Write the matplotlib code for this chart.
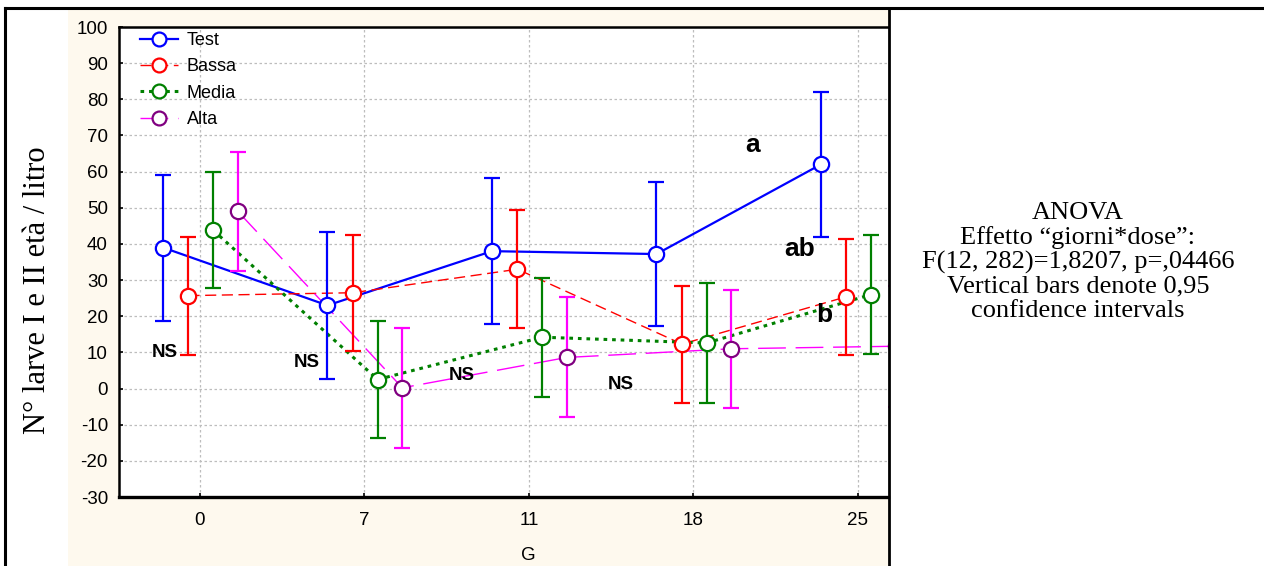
import matplotlib
matplotlib.use("Agg")
import matplotlib.pyplot as plt
from matplotlib.lines import Line2D
from matplotlib.patches import Rectangle
import numpy as np

plt.rcParams["axes.unicode_minus"] = False

# ---- data ----
days = ["0", "7", "11", "18", "25"]
series_names = ["Test", "Bassa", "Media", "Alta"]
test_mean = [39.0, 23.0, 38.0, 37.2, 62.0]
test_ci = [20.2, 20.3, 20.2, 20.0, 20.0]
bassa_mean = [25.7, 26.5, 33.0, 12.3, 25.4]
bassa_ci = [16.3, 16.0, 16.3, 16.2, 16.0]
media_mean = [43.8, 2.5, 14.2, 12.6, 26.0]
media_ci = [16.0, 16.2, 16.5, 16.5, 16.5]
alta_mean = [49.0, 0.2, 8.6, 11.0, 11.7]
alta_ci = [16.5, 16.6, 16.6, 16.3, 16.7]
y_ticks = list(range(-30, 101, 10))
ns_labels = ["NS", "NS", "NS", "NS"]
letters = ["a", "ab", "b"]
anova_text = ("ANOVA\nEffetto \u201cgiorni*dose\u201d:\nF(12, 282)=1,8207, p=,04466\n"
              "Vertical bars denote 0,95\nconfidence intervals")
ylabel = "N\u00b0 larve I e II et\u00e0 / litro"

W, H = 1264, 566
fig = plt.figure(figsize=(W / 100, H / 100), dpi=100)
fig.patch.set_facecolor("white")

def fx(px):
    return px / W

def fy(py):
    return 1 - py / H

# beige panel
bg = Rectangle((fx(68), 0), fx(888) - fx(68), fy(9), transform=fig.transFigure,
               facecolor="#FEF9EE", edgecolor="none", zorder=-5)
fig.patches.append(bg)
# table borders
fig.add_artist(Line2D([fx(5), 1], [fy(8), fy(8)], color="black", lw=2.2, transform=fig.transFigure, zorder=10))
fig.add_artist(Line2D([fx(5), fx(5)], [0, fy(8)], color="black", lw=2.2, transform=fig.transFigure, zorder=10))
fig.add_artist(Line2D([fx(889), fx(889)], [0, fy(8)], color="black", lw=2.0, transform=fig.transFigure, zorder=10))

ax = fig.add_axes([fx(119), fy(497), fx(888) - fx(119), fy(27) - fy(497)])
ax.set_zorder(2)
ax.set_facecolor("white")

x = np.arange(len(days))
offsets = [-0.225, -0.07, 0.08, 0.23]
means = [test_mean, bassa_mean, media_mean, alta_mean]
cis = [test_ci, bassa_ci, media_ci, alta_ci]
line_colors = ["#0000FF", "#FF0000", "#008000", "#FF00FF"]
edge_colors = ["#0000FF", "#FF0000", "#008000", "#800080"]
styles = [dict(ls="-", lw=1.6), dict(ls=(0, (8, 4)), lw=1.0), dict(ls=(0, (1.2, 1.6)), lw=2.2),
          dict(ls=(0, (20, 7)), lw=1.0)]

for i in range(4):
    xi = x + offsets[i]
    ax.plot(xi, means[i], color=line_colors[i], zorder=3, **styles[i])
    ax.errorbar(xi, means[i], yerr=cis[i], fmt="none", ecolor=line_colors[i], elinewidth=1.6,
                capsize=6, capthick=1.6, zorder=4)
    ax.plot(xi, means[i], "o", ls="none", markersize=11, markerfacecolor="white",
            markeredgecolor=edge_colors[i], markeredgewidth=1.6, zorder=5)

ax.set_xlim(-0.4924, 4.1824)
ax.set_ylim(-30, 100)
ax.set_xticks(x)
ax.set_xticklabels(days)
ax.set_yticks(y_ticks)
ax.grid(True, color="#BDBDBD", ls=(0, (2, 2)), lw=0.9)
ax.set_axisbelow(True)
for s in ax.spines.values():
    s.set_linewidth(1.8)
ax.spines["bottom"].set_linewidth(2.4)
ax.spines["right"].set_visible(False)
ax.tick_params(axis="both", direction="in", length=3, width=1.2, labelsize=13.5,
               colors="black")
ax.tick_params(axis="x", pad=11)
ax.tick_params(axis="y", pad=8)
for lab in ax.get_xticklabels() + ax.get_yticklabels():
    lab.set_fontfamily("Liberation Sans")

fig.text(fx(528), fy(556), "G", ha="center", va="center", fontsize=13.5, family="Liberation Sans")

# annotations
ns_pos = [(-0.213, 10.1), (0.65, 7.1), (1.593, 3.7), (2.559, 1.0)]
for (px_, py_), t in zip(ns_pos, ns_labels):
    ax.text(px_, py_, t, ha="center", va="center", fontsize=13.5, fontweight="bold",
            family="Liberation Sans", zorder=6)
let_pos = [(3.362, 67.4), (3.647, 38.6), (3.793, 20.3)]
for (px_, py_), t in zip(let_pos, letters):
    ax.text(px_, py_, t, ha="center", va="center", fontsize=19, fontweight="bold",
            family="Liberation Sans", zorder=6)

# legend
handles = []
for i in range(4):
    handles.append(Line2D([0], [0], color=line_colors[i], marker="o", markersize=10,
                          markerfacecolor="white", markeredgecolor=edge_colors[i],
                          markeredgewidth=1.6, **styles[i]))
leg = ax.legend(handles, series_names, loc="upper left", bbox_to_anchor=(0.006, 1.024),
                frameon=False, prop={"family": "Liberation Sans", "size": 13},
                handlelength=2.1, handletextpad=0.5, labelspacing=0.52)

# y label
fig.text(fx(38), fy(290), ylabel, rotation=90, ha="center", va="center",
         fontsize=22, family="Liberation Serif")

# ANOVA text
fig.text(fx(1078), fy(262), anova_text, ha="center", va="center", fontsize=19,
         family="Liberation Serif", linespacing=1.1)

fig.savefig("out.png", dpi=100)
